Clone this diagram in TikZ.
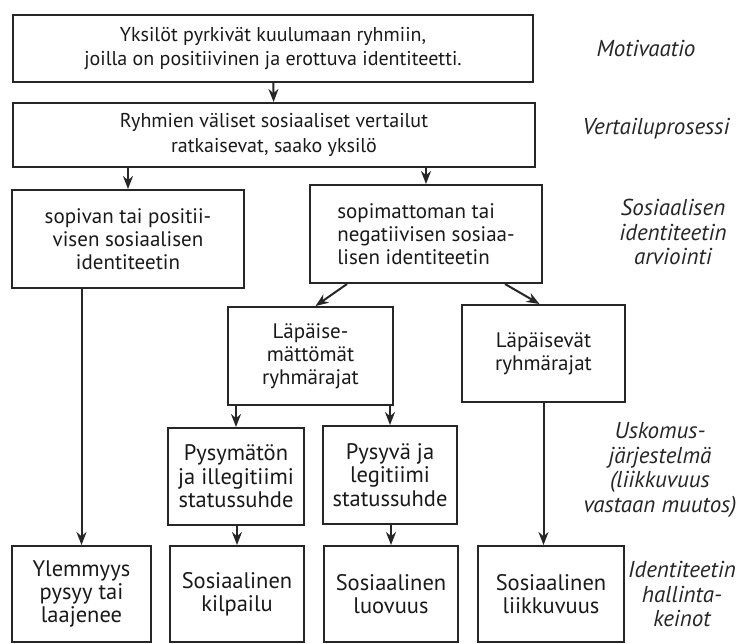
\documentclass[tikz,border=0pt]{standalone}
\usepackage{fontspec}
\setmainfont{PT Sans}
\usetikzlibrary{arrows.meta}

\begin{document}
\begin{tikzpicture}[x=1pt,y=-1pt,
    box/.style={draw=black!85,line width=2pt,rectangle,align=center,inner sep=2pt,
      font=\fontsize{21}{23}\selectfont,text=black!90},
    ylin/.style={font=\fontsize{20}{24.5}\selectfont},
    alin/.style={font=\fontsize{22.5}{23.5}\selectfont},
    lbl/.style={align=center,font=\fontsize{23}{24.5}\selectfont\itshape,text=black!85},
    arr/.style={-{Stealth[length=13pt,width=10pt]},line width=2pt,draw=black!85}]
  \useasboundingbox (0,0) rectangle (739,643);

  \node[box,ylin,minimum width=520,minimum height=67] (motiv) at (273,48.5)
    {Yksilöt pyrkivät kuulumaan ryhmiin,\\joilla on positiivinen ja erottuva identiteetti.};
  \node[box,ylin,minimum width=522,minimum height=64] (vert) at (274,135)
    {Ryhmien väliset sosiaaliset vertailut\\ratkaisevat, saako yksilö};

  \node[box,minimum width=232,minimum height=98] (sopiva) at (128,239)
    {sopivan tai positii-\\visen sosiaalisen\\identiteetin};
  \node[box,align=left,minimum width=232,minimum height=98] (sopimaton) at (426,234)
    {sopimattoman tai\\negatiivisen sosiaa-\\lisen identiteetin};

  \node[box,minimum width=165,minimum height=98] (suljetut) at (310.5,356)
    {Läpäise-\\mättömät\\ryhmärajat};
  \node[box,minimum width=163,minimum height=97] (avoimet) at (543.5,353.5)
    {Läpäisevät\\ryhmärajat};

  \node[box,alin,minimum width=136,minimum height=97] (epavakaa) at (236,476.5)
    {Pysymätön\\ja illegitiimi\\statussuhde};
  \node[box,alin,minimum width=134,minimum height=98] (vakaa) at (390,475)
    {Pysyvä ja\\legitiimi\\statussuhde};

  \node[box,alin,minimum width=139,minimum height=96] (ylemmyys) at (81.5,594)
    {Ylemmyys\\pysyy tai\\laajenee};
  \node[box,alin,minimum width=134,minimum height=96] (kilpailu) at (237,594)
    {Sosiaalinen\\kilpailu};
  \node[box,alin,minimum width=134,minimum height=96] (luovuus) at (391,594)
    {Sosiaalinen\\luovuus};
  \node[box,alin,minimum width=146,minimum height=96] (liikkuvuus) at (551,594)
    {Sosiaalinen\\liikkuvuus};

  \node[lbl] (l1) at (646,48) {Motivaatio};
  \node[lbl] (l2) at (656,129) {Vertailuprosessi};
  \node[lbl] (l3) at (673,232) {Sosiaalisen\\identiteetin\\arviointi};
  \node[lbl] (l4) at (660,470) {Uskomus-\\järjestelmä\\(liikkuvuus\\vastaan muutos)};
  \node[lbl] (l5) at (682,594) {Identiteetin\\hallinta-\\keinot};

  \draw[arr] (motiv) -- (vert);
  \draw[arr] (sopiva.north |- vert.south) -- (sopiva.north);
  \draw[arr] (sopimaton.north |- vert.south) -- (sopimaton.north);
  \draw[arr] ([xshift=-79pt]sopimaton.south) -- ([xshift=5pt]suljetut.north);
  \draw[arr] ([xshift=79pt]sopimaton.south) -- ([xshift=-4pt]avoimet.north);
  \draw[arr] (epavakaa.north |- suljetut.south) -- (epavakaa.north);
  \draw[arr] (vakaa.north |- suljetut.south) -- (vakaa.north);
  \draw[arr] (ylemmyys.north |- sopiva.south) -- (ylemmyys.north);
  \draw[arr] (kilpailu.north |- epavakaa.south) -- (kilpailu.north);
  \draw[arr] (luovuus.north |- vakaa.south) -- (luovuus.north);
  \draw[arr] (avoimet.south) -- (avoimet.south |- liikkuvuus.north);
\end{tikzpicture}
\end{document}
